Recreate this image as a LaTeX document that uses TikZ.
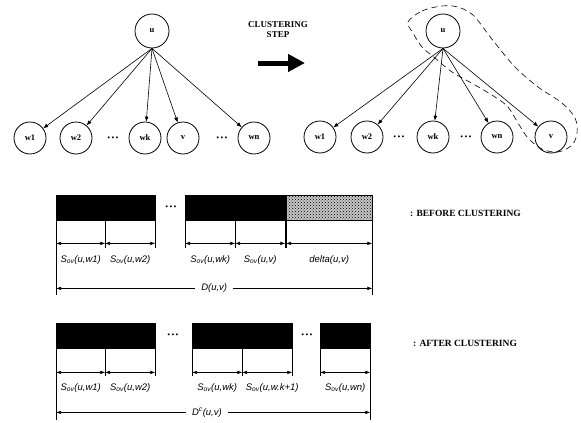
\documentclass[tikz,border=0pt]{standalone}
\usepackage{fontspec}
\setmainfont{Liberation Serif}
\setsansfont{Liberation Sans}
\usetikzlibrary{arrows.meta,patterns}

\begin{document}
\begin{tikzpicture}[
		x=1pt, y=-1pt,
		rootnode/.style={circle,draw,thick,minimum size=34pt,inner sep=0pt,font=\bfseries\fontsize{8.5}{9}\selectfont},
		leafnode/.style={circle,draw,thick,minimum size=32pt,inner sep=0pt,font=\bfseries\fontsize{8.5}{9}\selectfont},
		gapdots/.style={font=\fontsize{8}{8}\selectfont,inner sep=0pt},
		treeedge/.style={-{Latex[length=5pt,width=4pt]},semithick},
		barblock/.style={rectangle,fill=black,draw=black,minimum height=25pt,inner sep=0pt,anchor=north west},
		dimline/.style={{Latex[length=5pt,width=3.5pt]}-{Latex[length=5pt,width=3.5pt]},semithick},
		barlabel/.style={font=\sffamily\itshape\fontsize{9.5}{10}\selectfont,inner sep=1pt},
		caption/.style={font=\bfseries\fontsize{9.5}{10}\selectfont,anchor=west,inner sep=0pt}
	]
	\useasboundingbox (0,0) rectangle (581,423);

	% tree before clustering
	\node[rootnode] (u) at (152,31) {u};
	\node[leafnode] (w1) at (30,138) {w1};
	\node[leafnode] (w2) at (76,138) {w2};
	\node[gapdots] (d1) at (113,139) {\textbullet\,\textbullet\,\textbullet};
	\node[leafnode] (wk) at (145,138) {wk};
	\node[leafnode] (v) at (183,138) {v};
	\node[gapdots] (d2) at (222,139) {\textbullet\,\textbullet\,\textbullet};
	\node[leafnode] (wn) at (254,138) {wn};
	\foreach \c in {w1,w2,wk,v,wn}
		\draw[treeedge] (u.south) -- (\c);

	% clustering step
	\node[font=\bfseries\fontsize{9}{10}\selectfont,align=center] (step) at (278,30) {CLUSTERING\\STEP};
	\coordinate (stepstart) at (258,63);
	\coordinate (stepend) at (305,63);
	\draw[line width=5pt,-{Triangle[length=17pt,width=17pt]}] (stepstart) -- (stepend);

	% tree after clustering
	\node[rootnode] (ru) at (443,31) {u};
	\node[leafnode] (rw1) at (320,137) {w1};
	\node[leafnode] (rw2) at (367,137) {w2};
	\node[gapdots] (rd1) at (399,138) {\textbullet\,\textbullet\,\textbullet};
	\node[leafnode] (rwk) at (433,137) {wk};
	\node[gapdots] (rd2) at (466,138) {\textbullet\,\textbullet\,\textbullet};
	\node[leafnode] (rwn) at (497,137) {wn};
	\node[leafnode] (rv) at (551,137) {v};
	\foreach \c in {rw1,rw2,rwk,rwn,rv}
		\draw[treeedge] (ru.south) -- (\c);
	\draw[semithick,dash pattern=on 6pt off 4pt] plot[smooth cycle,tension=0.55] coordinates {
			(408,22) (422,11) (442,6) (458,7) (473,15) (485,30) (495,43) (515,67)
			(538,87) (562,103) (575,118) (577,133) (572,145) (558,152) (542,149)
			(528,138) (518,123) (508,107) (495,97) (475,85) (452,72) (435,58)
			(422,47) (413,33)};

	% bars before clustering
	\node[barblock,minimum width=49pt] (a1) at (56,195) {};
	\node[barblock,minimum width=50pt] (a2) at (105,195) {};
	\node[gapdots] (ad) at (171,208) {\textbullet\,\textbullet\,\textbullet};
	\node[barblock,minimum width=50pt] (a3) at (185,195) {};
	\node[barblock,minimum width=50pt] (a4) at (235,195) {};
	\node[barblock,minimum width=86pt,fill=none,preaction={fill=gray!45},pattern=crosshatch dots] (a5) at (286,195) {};
	\draw[semithick] (a1.south west) -- ++(0,75);
	\draw[semithick] (a5.south east) -- ++(0,75);
	\foreach \b in {a1,a2,a3,a4}
		\draw[semithick] (\b.south east) -- ++(0,28);
	\foreach \b in {a2,a3,a5}
		\draw[semithick] (\b.south west) -- ++(0,28);
	\foreach \b in {a1,a2,a3,a4,a5}
		\draw[dimline] ([yshift=-23pt]\b.south west) -- ([yshift=-23pt]\b.south east);
	\node[barlabel] (la1) at ([yshift=-40pt]a1.south) {S\textsubscript{ov}(u,w1)};
	\node[barlabel] (la2) at ([yshift=-40pt]a2.south) {S\textsubscript{ov}(u,w2)};
	\node[barlabel] (la3) at ([yshift=-40pt]a3.south) {S\textsubscript{ov}(u,wk)};
	\node[barlabel] (la4) at ([yshift=-40pt]a4.south) {S\textsubscript{ov}(u,v)};
	\node[barlabel] (la5) at ([yshift=-40pt]a5.south) {delta(u,v)};
	\draw[dimline] ([yshift=-68pt]a1.south west) -- node[barlabel,fill=white,inner xsep=6pt] (dtop) {D(u,v)} ([yshift=-68pt]a5.south east);
	\node[caption] (before) at (410,213) {: BEFORE CLUSTERING};

	% bars after clustering
	\node[barblock,minimum width=49pt] (c1) at (56,323) {};
	\node[barblock,minimum width=50pt] (c2) at (105,323) {};
	\node[gapdots] (cd1) at (173,336) {\textbullet\,\textbullet\,\textbullet};
	\node[barblock,minimum width=50pt] (c3) at (192,323) {};
	\node[barblock,minimum width=50pt] (c4) at (242,323) {};
	\node[gapdots] (cd2) at (307,336) {\textbullet\,\textbullet\,\textbullet};
	\node[barblock,minimum width=50pt] (c5) at (320,323) {};
	\draw[semithick] (c1.south west) -- ++(0,72);
	\draw[semithick] (c5.south east) -- ++(0,72);
	\foreach \b in {c1,c2,c3,c4}
		\draw[semithick] (\b.south east) -- ++(0,28);
	\foreach \b in {c2,c3,c5}
		\draw[semithick] (\b.south west) -- ++(0,28);
	\foreach \b in {c1,c2,c3,c4,c5}
		\draw[dimline] ([yshift=-24pt]\b.south west) -- ([yshift=-24pt]\b.south east);
	\node[barlabel] (lc1) at ([yshift=-40pt]c1.south) {S\textsubscript{ov}(u,w1)};
	\node[barlabel] (lc2) at ([yshift=-40pt]c2.south) {S\textsubscript{ov}(u,w2)};
	\node[barlabel] (lc3) at ([yshift=-40pt]c3.south) {S\textsubscript{ov}(u,wk)};
	\node[barlabel] (lc4) at ([yshift=-40pt,xshift=5pt]c4.south) {S\textsubscript{ov}(u,w.k+1)};
	\node[barlabel] (lc5) at ([yshift=-40pt]c5.south) {S\textsubscript{ov}(u,wn)};
	\draw[dimline] ([yshift=-64pt]c1.south west) -- node[barlabel,fill=white,inner xsep=6pt,pos=0.48] (dbot) {D\textsuperscript{c}(u,v)} ([yshift=-64pt]c5.south east);
	\node[caption] (after) at (413,343) {: AFTER CLUSTERING};
\end{tikzpicture}
\end{document}
